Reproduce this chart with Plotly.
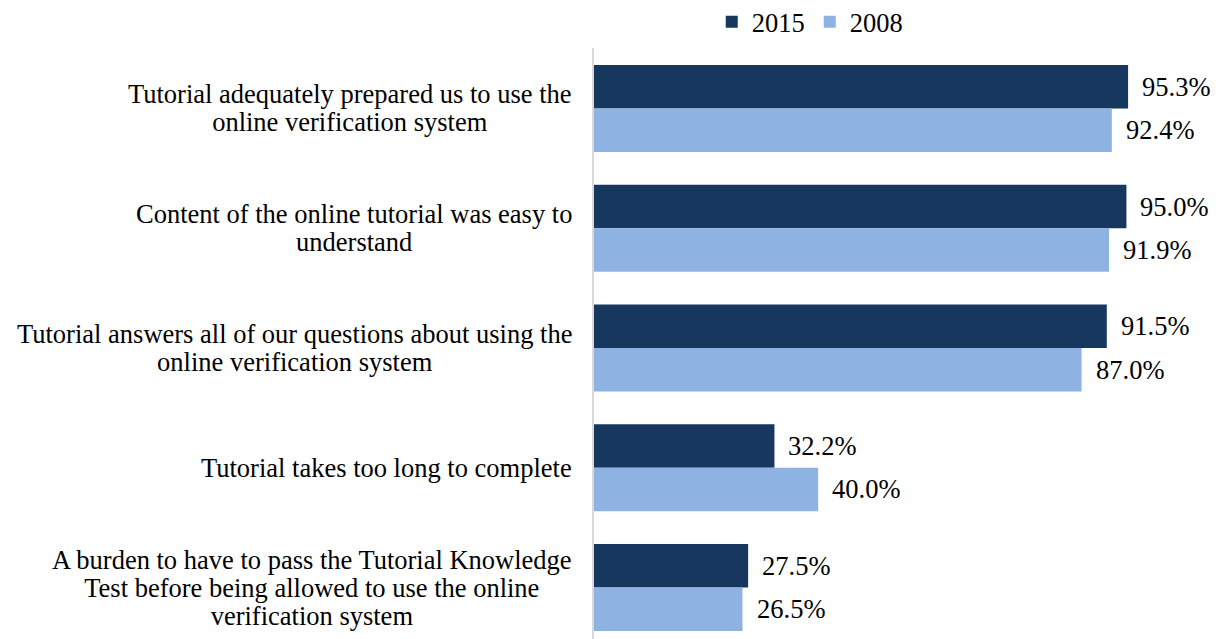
import plotly.graph_objects as go

categories = [
    "Tutorial adequately prepared us to use the<br>online verification system",
    "Content of the online tutorial was easy to<br>understand",
    "Tutorial answers all of our questions about using the<br>online verification system",
    "Tutorial takes too long to complete",
    "A burden to have to pass the Tutorial Knowledge<br>Test before being allowed to use the online<br>verification system",
]
values_2015 = [95.3, 95.0, 91.5, 32.2, 27.5]
values_2008 = [92.4, 91.9, 87.0, 40.0, 26.5]
series_names = ["2015", "2008"]

DARK = "#18375E"
LIGHT = "#8EB3E2"
FONT = "Liberation Serif, Times New Roman, serif"
FS = 26.5

# page body has an 8px default margin; size the figure so it fits the 1220x639 window
W, H = 1212, 631

fig = go.Figure()
fig.add_trace(go.Bar(y=categories, x=values_2015, name=series_names[0], orientation="h",
                     marker=dict(color=DARK, line=dict(width=0))))
fig.add_trace(go.Bar(y=categories, x=values_2008, name=series_names[1], orientation="h",
                     marker=dict(color=LIGHT, line=dict(width=0))))

annotations = []
for cat, v15, v08 in zip(categories, values_2015, values_2008):
    for v, ys in ((v15, 21.7), (v08, -21.7)):
        annotations.append(dict(
            x=v, y=cat, xref="x", yref="y", text=f"{v:.1f}%", showarrow=False,
            xanchor="left", yanchor="middle", xshift=12, yshift=ys,
            font=dict(family=FONT, size=FS, color="#000000")))
    lines = cat.split("<br>")
    txt = "<br>".join(f'<span style="font-size:{FS}px">{ln}</span>' for ln in lines)
    annotations.append(dict(
        x=0, y=cat, xref="x", yref="y", text=txt, showarrow=False,
        xanchor="right", yanchor="middle", xshift=-20, align="center",
        font=dict(family=FONT, size=21.5, color="#000000")))

fig.update_layout(
    width=W, height=H,
    margin=dict(l=586, r=0, t=40, b=0),
    paper_bgcolor="white", plot_bgcolor="white",
    barmode="group", bargap=0.275, bargroupgap=0,
    font=dict(family=FONT, size=FS, color="#000000"),
    xaxis=dict(range=[0, 111.7], visible=False, fixedrange=True),
    yaxis=dict(type="category", range=[4.43, -0.505], showticklabels=False,
               showgrid=False, zeroline=False, showline=True,
               linecolor="#D9D9D9", linewidth=2, ticks=""),
    legend=dict(orientation="h", xref="container", yref="container",
                x=0.6615, y=1 - 14 / H, xanchor="center", yanchor="middle",
                font=dict(family=FONT, size=FS, color="#000000"),
                itemwidth=30, traceorder="normal"),
    annotations=annotations,
    showlegend=True,
)

fig.write_html("out.html")
